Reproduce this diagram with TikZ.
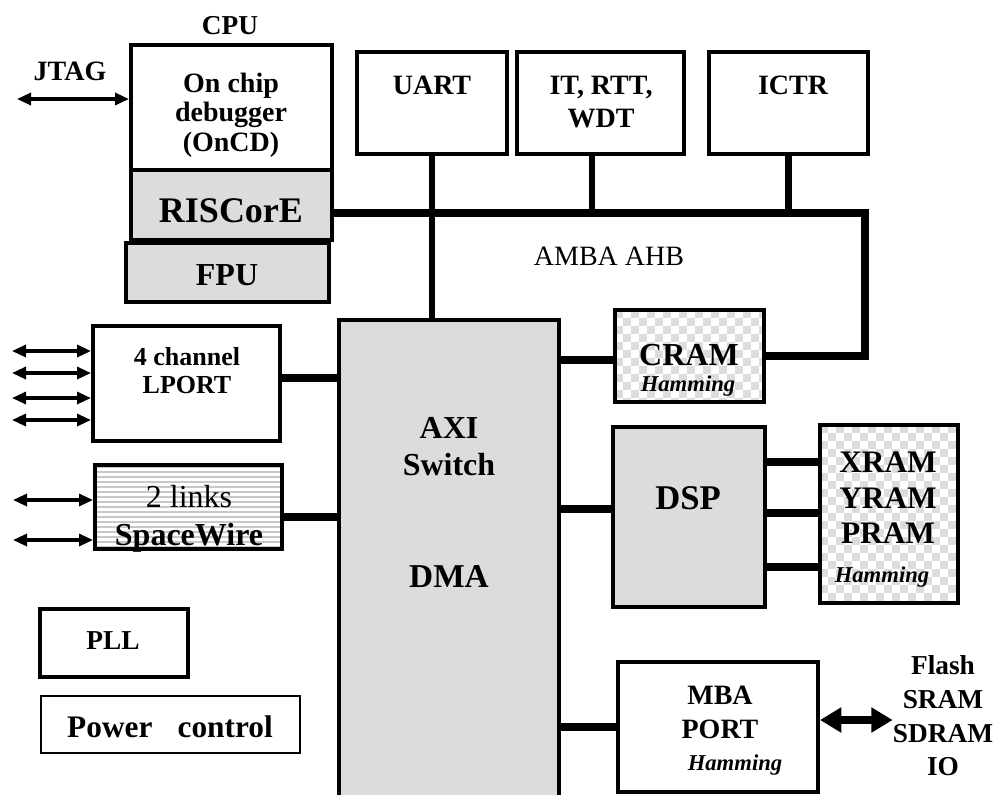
\documentclass[tikz,border=0pt]{standalone}
\usepackage{fontspec}
\setmainfont{Liberation Serif}
\usetikzlibrary{arrows.meta,backgrounds}
\definecolor{boxgray}{HTML}{DCDCDC}
\definecolor{chkgray}{HTML}{DCDCDC}
\definecolor{stripegray}{HTML}{C8C8C8}
\newcommand{\fsz}[2]{\fontsize{#1}{#2}\selectfont}
% box from border-centre coordinates in px
\newcommand{\bx}[6]{\node[#6, minimum width={(#4-#2)*0.75pt}, minimum height={(#5-#3)*0.75pt}] (#1) at ({(#2+#4)/2},{(#3+#5)/2}) {};}
% checker fill inside a rectangle (px)
\newcommand{\chk}[4]{%
  \begin{scope}
    \clip (#1,#2) rectangle (#3,#4);
    \foreach \i in {0,2,...,24} {\foreach \j in {0,2,...,24} {
      \fill[chkgray] ({#1+\i*8},{#2+\j*8}) rectangle +(8,8);
      \fill[chkgray] ({#1+(\i+1)*8},{#2+(\j+1)*8}) rectangle +(8,8);}}
  \end{scope}}
\tikzset{
  box/.style={draw, line width=3pt, inner sep=0pt, rectangle},
  gbox/.style={box, fill=boxgray},
  axibox/.style={draw, line width=2.4pt, fill=boxgray, inner sep=0pt, rectangle},
  thinbox/.style={draw, line width=1.6pt, inner sep=0pt, rectangle},
  lbl/.style={inner sep=0pt, align=center},
  bus/.style={line width=6pt},
  stub/.style={line width=4.6pt},
  link/.style={line width=6pt},
  thinarrow/.style={line width=2.4pt, {Triangle[length=10.5pt,width=9pt]}-{Triangle[length=10.5pt,width=9pt]}},
  fatarrow/.style={line width=6.5pt, {Triangle[length=16pt,width=18pt]}-{Triangle[length=16pt,width=18pt]}}
}
\begin{document}
\begin{tikzpicture}[x=0.75pt, y=-0.75pt]
\useasboundingbox (0,0) rectangle (999,794);

% ---------- boxes ----------
\bx{oncd}{131}{45}{332}{170}{box}
\bx{risc}{131}{170}{332}{240}{gbox}
\bx{fpu}{126}{243}{329}{302}{gbox}
\bx{uart}{357}{52}{507}{154}{box}
\bx{itb}{517}{52}{684}{154}{box}
\bx{ictr}{709}{52}{868}{154}{box}
\bx{axi}{339}{320}{559}{802}{axibox}
\bx{cram}{615}{310}{764}{402}{box}
\bx{dsp}{613}{427}{765}{607}{gbox}
\bx{xram}{820}{425}{958}{603}{box}
\bx{lport}{93}{326}{280}{441}{box}
\bx{sw}{95}{465}{282}{549}{box}
\bx{pll}{40}{609}{188}{677}{box}
\bx{pwr}{41}{696}{300}{753}{thinbox}
\bx{mba}{618}{662}{818}{792}{box}

% ---------- fills on background ----------
\begin{pgfonlayer}{background}
  \fill[white] (0,0) rectangle (999,794);
  \chk{615}{310}{764}{402}
  \chk{820}{425}{958}{603}
  \begin{scope}
    \clip (95,465) rectangle (282,549);
    \foreach \k in {0,...,17} {\draw[stripegray, line width=1.5pt] (95,{467+\k*5}) -- (282,{467+\k*5});}
  \end{scope}
\end{pgfonlayer}

% ---------- labels ----------
\node[lbl, font=\fsz{20.5}{20.5}\bfseries] (cpuT) at (230,26) {CPU};
\node[lbl, font=\fsz{21}{21}\bfseries] (jtagT) at (70,71) {JTAG};
\node[lbl, font=\fsz{21}{22}\bfseries] (oncdT) at (231,115) {On chip\\debugger\\(OnCD)};
\node[lbl, font=\fsz{27}{27}\bfseries] (riscT) at (231,211) {RISCorE};
\node[lbl, font=\fsz{24}{24}\bfseries] (fpuT) at (227,275) {FPU};
\node[lbl, font=\fsz{21}{21}\bfseries] (uartT) at (432,85) {UART};
\node[lbl, font=\fsz{21}{24.75}\bfseries] (itT) at (601,102) {IT, RTT,\\WDT};
\node[lbl, font=\fsz{21}{21}\bfseries] (ictrT) at (793,85) {ICTR};
\node[lbl, font=\fsz{21}{21}] (ambaT) at (609,256) {AMBA AHB};
\node[lbl, font=\fsz{24}{27.75}\bfseries] (axiT) at (449,447) {AXI\\Switch};
\node[lbl, font=\fsz{25}{25}\bfseries] (dmaT) at (449,577) {DMA};
\node[lbl, font=\fsz{24}{24}\bfseries] (cramT) at (689,355) {CRAM};
\node[lbl, font=\fsz{17}{17}\bfseries\itshape] (cramH) at (688,386) {Hamming};
\node[lbl, font=\fsz{26}{26}\bfseries] (dspT) at (688,498) {DSP};
\node[lbl, font=\fsz{23.5}{26.6}\bfseries] (xramT) at (888,498) {XRAM\\YRAM\\PRAM};
\node[lbl, font=\fsz{17}{17}\bfseries\itshape] (xramH) at (882,577) {Hamming};
\node[lbl, font=\fsz{19.5}{21}\bfseries] (lportT) at (187,371) {4 channel\\LPORT};
\node[lbl, font=\fsz{24}{28.5}] (swT) at (189,519) {2 links\\\textbf{SpaceWire}};
\node[lbl, font=\fsz{21}{25.5}\bfseries] (mbaT) at (720,712) {MBA\\PORT};
\node[lbl, font=\fsz{17}{17}\bfseries\itshape] (mbaH) at (735,765) {Hamming};
\node[lbl, font=\fsz{20.5}{25.3}\bfseries] (flashT) at (943,716) {Flash\\SRAM\\SDRAM\\IO};
\node[lbl, font=\fsz{20.5}{20.5}\bfseries] (pllT) at (113,641) {PLL};
\node[lbl, font=\fsz{23.5}{23.5}\bfseries] (pwrT) at (170,727) {Power\hspace{13pt} control};

% ---------- AMBA bus ----------
\coordinate (busrow) at (0,213);
\coordinate (busR) at (865,213);
\draw[bus] (risc.east |- busrow) -- (busR) -- (busR |- cram.east) -- (cram.east);
\coordinate (itx) at (592,0);
\draw[stub] (uart.south) -- (uart.south |- axi.north);
\draw[stub] (itb.south -| itx) -- (itx |- busrow);
\draw[stub] (ictr.south) -- (ictr.south |- busrow);

% ---------- AXI links ----------
\coordinate (rowL) at (0,378);
\coordinate (rowS) at (0,517);
\coordinate (rowC) at (0,360);
\coordinate (rowD) at (0,509);
\draw[link] (lport.east |- rowL) -- (axi.west |- rowL);
\draw[link] (sw.east |- rowS) -- (axi.west |- rowS);
\draw[link] (axi.east |- rowC) -- (cram.west |- rowC);
\draw[link] (axi.east |- rowD) -- (dsp.west |- rowD);
\draw[link] (axi.east |- mba.west) -- (mba.west);

% ---------- DSP to memories ----------
\coordinate (rowX1) at (0,462);
\coordinate (rowX2) at (0,513);
\coordinate (rowX3) at (0,567);
\draw[link] (dsp.east |- rowX1) -- (xram.west |- rowX1);
\draw[link] (dsp.east |- rowX2) -- (xram.west |- rowX2);
\draw[link] (dsp.east |- rowX3) -- (xram.west |- rowX3);

% ---------- external arrows ----------
\coordinate (jt) at (17,99);
\draw[thinarrow] (jt) -- (oncd.west |- jt);
\coordinate (l1) at (12,351);
\coordinate (l2) at (12,373);
\coordinate (l3) at (12,398);
\coordinate (l4) at (12,420);
\draw[thinarrow] (l1) -- (lport.west |- l1);
\draw[thinarrow] (l2) -- (lport.west |- l2);
\draw[thinarrow] (l3) -- (lport.west |- l3);
\draw[thinarrow] (l4) -- (lport.west |- l4);
\coordinate (s1) at (13,500);
\coordinate (s2) at (13,540);
\draw[thinarrow] (s1) -- (sw.west |- s1);
\draw[thinarrow] (s2) -- (sw.west |- s2);
\coordinate (rowM) at (0,720);
\draw[fatarrow] (mba.east |- rowM) -- (flashT.west |- rowM);
\end{tikzpicture}
\end{document}
